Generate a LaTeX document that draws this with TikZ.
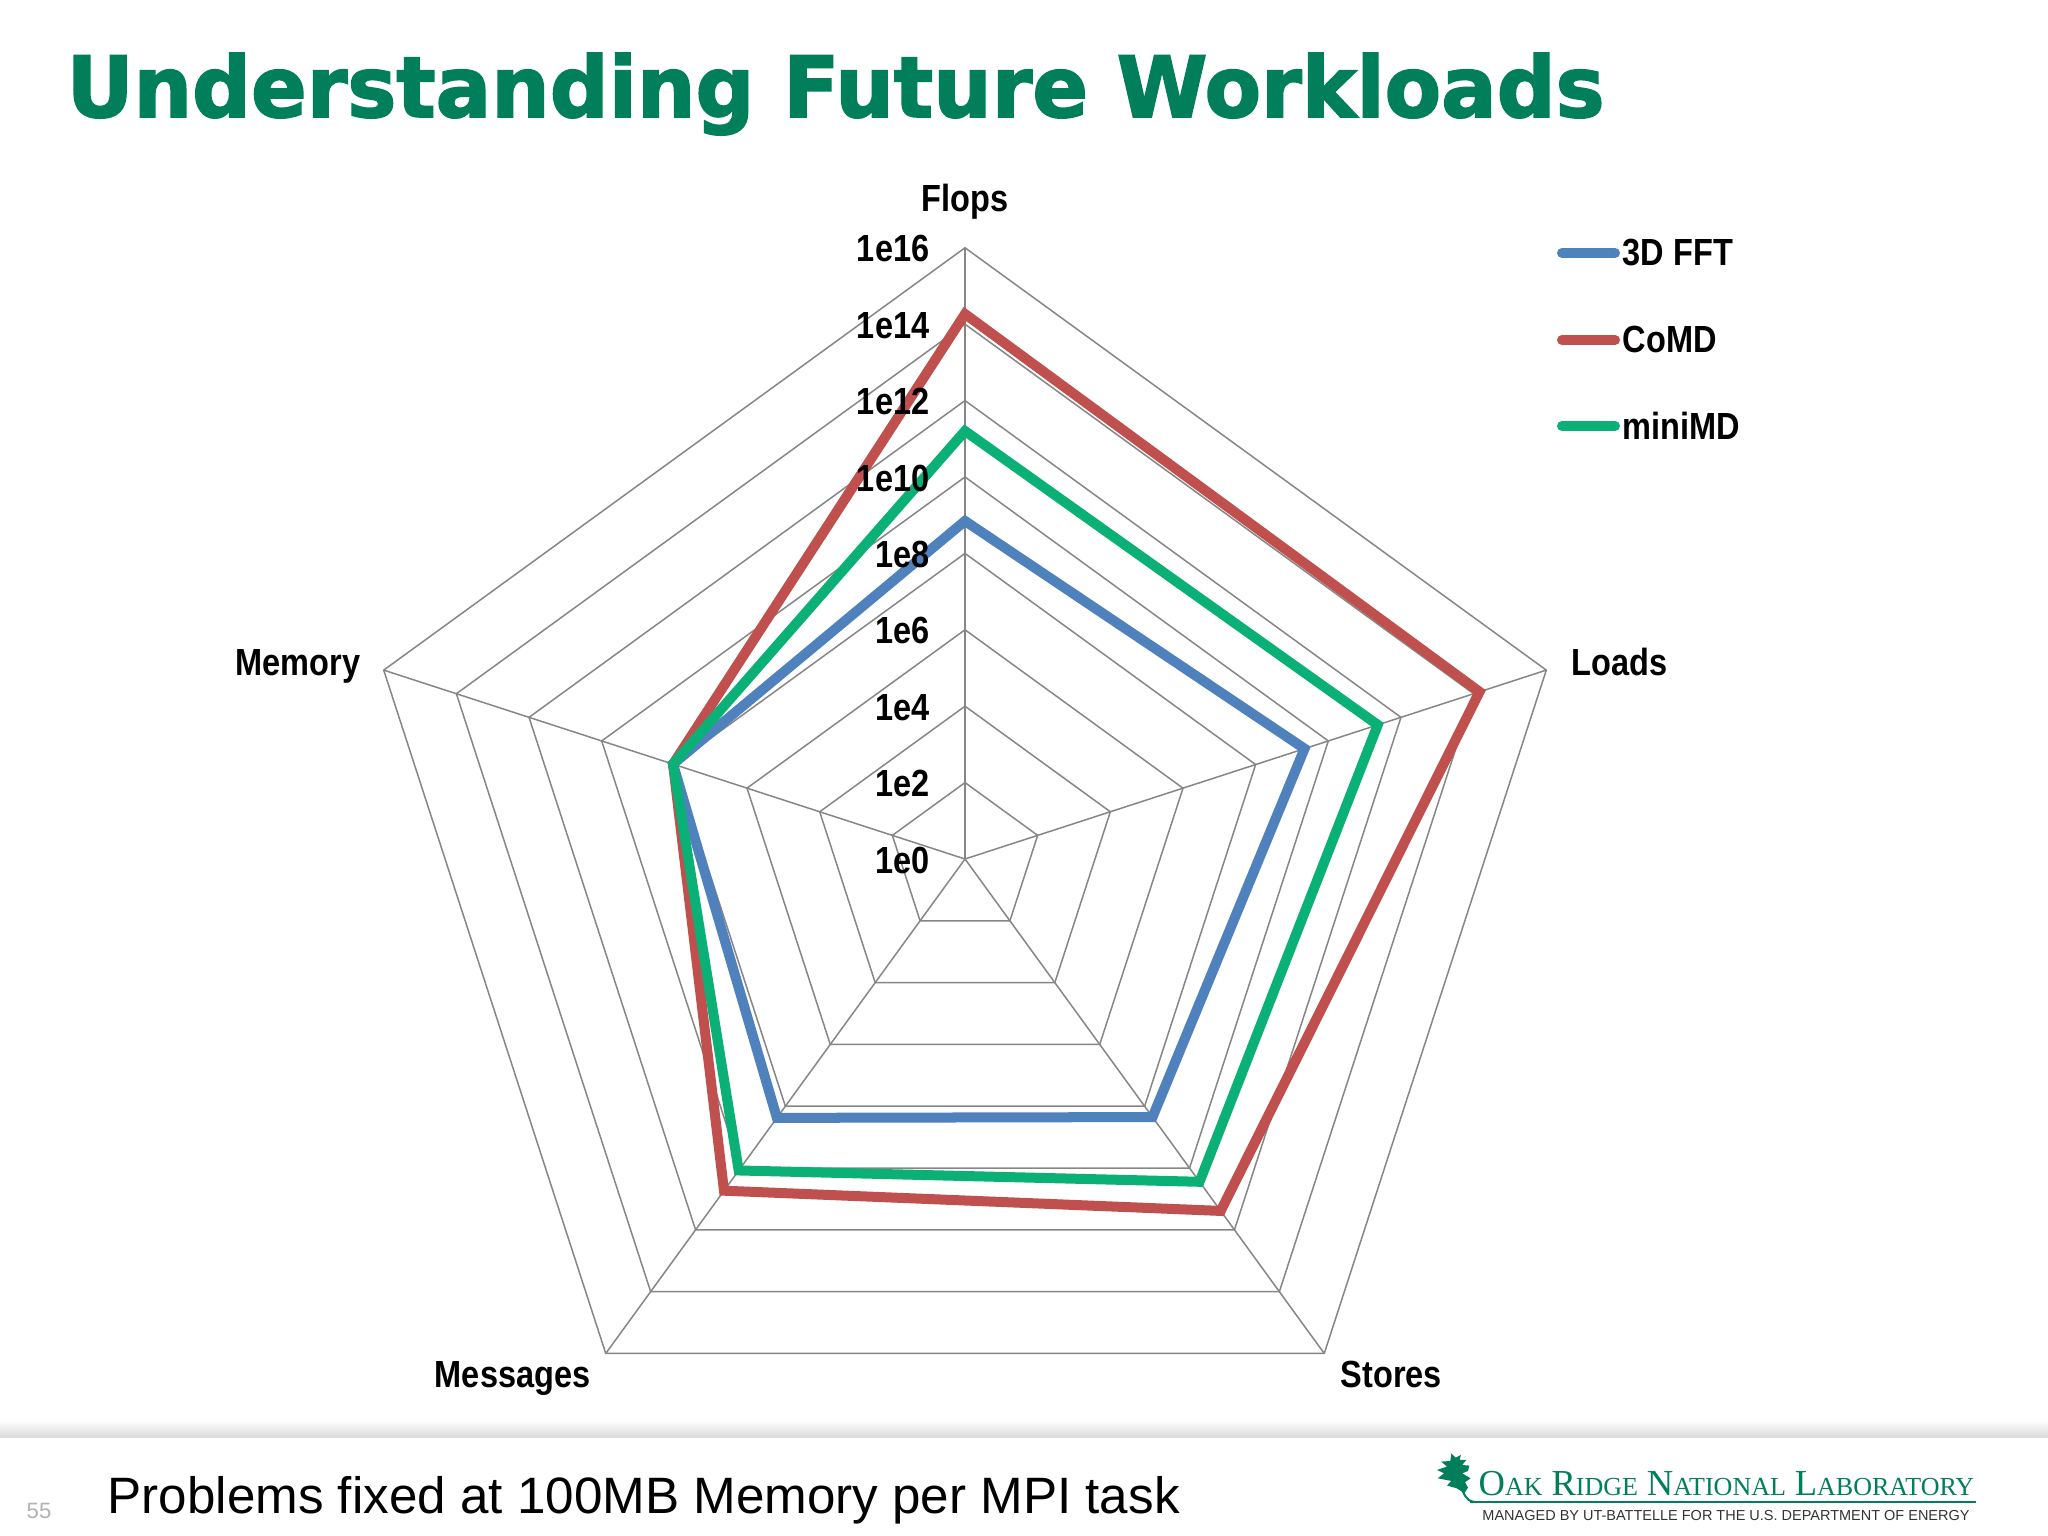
\documentclass[tikz,border=0pt]{standalone}
\usepackage{fontspec}
\setmainfont{Liberation Sans}
\newfontfamily\narrowfont[FakeStretch=0.86]{Liberation Sans}
\newfontfamily\titlefont[FakeStretch=0.975,BoldFeatures={FakeBold=2}]{DejaVu Sans}
\newfontfamily\logofont{Liberation Serif}
\usetikzlibrary{calc}
\definecolor{fftblue}{HTML}{4F81BD}
\definecolor{comdred}{HTML}{C0504D}
\definecolor{minigreen}{HTML}{0BB077}
\definecolor{ornlgreen}{HTML}{007F5A}
\definecolor{gridgray}{HTML}{868686}
\tikzset{
    grid line/.style = {
        draw=gridgray,
        line width=0.015cm,
        },
    series/.style = {
        line width=0.1cm,
        miter limit=10,
        },
    legend line/.style = {
        line width=0.1cm,
        line cap=round,
        shorten >=0.07cm,
        },
    axis label/.style = {
        font=\narrowfont\fontsize{10.75}{12}\selectfont\bfseries,
        inner sep=0,
        },
    tick label/.style = {
        axis label,
        anchor=east,
        },
}
\newcommand{\logocap}[2]{{\fontsize{10.4}{12}\selectfont #1\fontsize{7.4}{12}\selectfont #2}}
\begin{document}
\begin{tikzpicture}[x=0.01cm,y=0.01cm]
    \useasboundingbox (0,0) rectangle (2048,1536);
    \fill[white] (0,0) rectangle (2048,1536);

    % footer band
    \shade[top color=white, bottom color=black!15] (0,98) rectangle (2048,116);

    \node[anchor=base west, inner sep=0, text=ornlgreen, font=\titlefont\fontsize{24}{28}\selectfont\bfseries] (title) at (66,1419) {Understanding Future Workloads};

    % radar chart
    \begin{scope}[shift={(965,677)}]
        \coordinate (o) at (0,0);
        \foreach \ang/\name in {90/flops,18/loads,-54/stores,-126/messages,162/memory} {
            \coordinate (\name) at (\ang:611);
            \path[grid line] (o) -- (\name);
        }
        \foreach \i in {1,...,8} {
            \path[grid line] (90:\i*76.4) -- (18:\i*76.4) -- (-54:\i*76.4) -- (-126:\i*76.4) -- (162:\i*76.4) -- cycle;
        }

        \draw[series, fftblue] (90:338) -- (18:357) -- (-54:319) -- (-126:320) -- (162:307) -- cycle;
        \draw[series, comdred] (90:545) -- (18:541) -- (-54:435) -- (-126:410) -- (162:307) -- cycle;
        \draw[series, minigreen] (90:428) -- (18:434) -- (-54:399) -- (-126:385) -- (162:307) -- cycle;

        \foreach \i/\lab in {0/1e0,1/1e2,2/1e4,3/1e6,4/1e8,5/1e10,6/1e12,7/1e14,8/1e16} {
            \node[tick label] (tick\i) at (-35,\i*76.4-1) {\lab};
        }
    \end{scope}

    \node[axis label, anchor=base] (flopslabel) at (965,1324) {Flops};
    \node[axis label, anchor=base west] (loadslabel) at (1571,860) {Loads};
    \node[axis label, anchor=base west] (storeslabel) at (1340,148) {Stores};
    \node[axis label, anchor=base east] (messageslabel) at (591,148) {Messages};
    \node[axis label, anchor=base east] (memorylabel) at (361,860) {Memory};

    % legend
    \foreach \y/\col/\lab/\name in {1283/fftblue/3D FFT/fft,1196/comdred/CoMD/comd,1110/minigreen/miniMD/mini} {
        \node[axis label, anchor=west] (\name label) at (1622,\y) {\lab};
        \coordinate (\name start) at (1562,\y);
        \draw[legend line, \col] (\name start) -- (\name label.west);
    }

    % footer
    \node[anchor=base west, inner sep=0, text=black!30, font=\fontsize{6.3}{8}\selectfont] (pagenum) at (26,18) {55};
    \node[anchor=base west, inner sep=0, font=\fontsize{14.55}{17}\selectfont] (note) at (107,22) {Problems fixed at 100MB Memory per MPI task};

    % logo
    \node[anchor=base west, inner sep=0, text=ornlgreen, font=\logofont] (ornl) at (1478,41) {\logocap{O}{AK} \logocap{R}{IDGE} \logocap{N}{ATIONAL} \logocap{L}{ABORATORY}};
    \fill[ornlgreen] (1470,32.5) rectangle (1976,35);
    \node[inner sep=0, text=black!80, font=\fontsize{4.12}{5}\selectfont] (managed) at (1726,20) {MANAGED BY UT-BATTELLE FOR THE U.S. DEPARTMENT OF ENERGY};
    \begin{scope}[shift={(1421,91)},x=0.0042cm,y=-0.00333cm]
        \fill[ornlgreen] (72,25) -- (82,38) -- (95,30) -- (92,45) -- (108,45) -- (98,60) -- (115,62) -- (112,78) -- (98,85) -- (118,100) -- (105,112) -- (112,128) -- (103,145) -- (85,130) -- (62,122) -- (72,108) -- (40,100) -- (55,85) -- (38,75) -- (62,65) -- (48,50) -- (70,48) -- cycle;
        \draw[ornlgreen, line width=0.02cm] (100,140) .. controls (108,165) and (118,172) .. (135,172);
    \end{scope}
\end{tikzpicture}
\end{document}
